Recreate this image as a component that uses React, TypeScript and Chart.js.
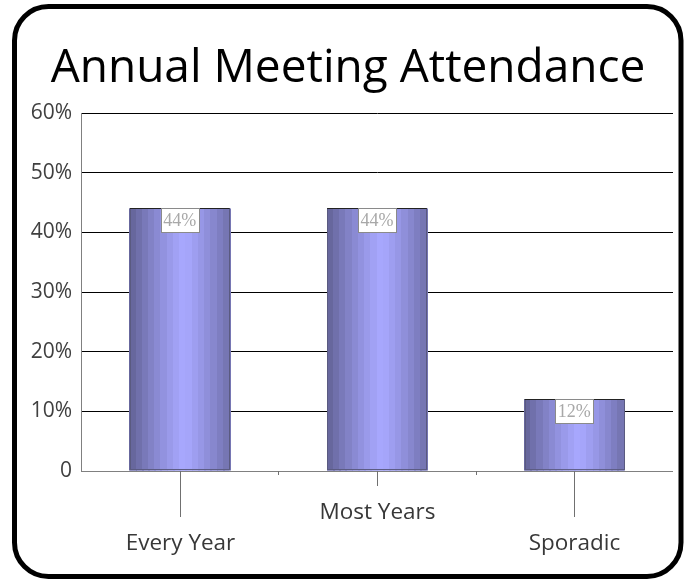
import React, { useEffect, useRef } from "react";
import { Chart, registerables } from "chart.js";

Chart.register(...registerables);

const chartTitle = "Annual Meeting Attendance";
const categories = ["Every Year", "Most Years", "Sporadic"];
const values = [44, 44, 12];
const valueLabels = ["44%", "44%", "12%"];
const labelRows = [1, 0, 1];
const yMin = 0;
const yMax = 60;
const yStep = 10;

const FONT = "'Open Sans', sans-serif";

const lerp = (a: number, b: number, t: number) => Math.round(a + (b - a) * t);
const EDGE = [98, 98, 150];
const CENTER = [168, 168, 255];

const framePlugin = {
  id: "frame",
  beforeDraw(chart: any) {
    const ctx = chart.ctx;
    ctx.save();
    ctx.fillStyle = "#ffffff";
    ctx.fillRect(0, 0, chart.width, chart.height);
    ctx.lineWidth = 5;
    ctx.strokeStyle = "#000000";
    ctx.beginPath();
    (ctx as any).roundRect(14.5, 6.5, 666.5, 570, 34);
    ctx.stroke();
    // title
    ctx.fillStyle = "#000000";
    ctx.font = `46px ${FONT}`;
    ctx.textAlign = "center";
    ctx.textBaseline = "alphabetic";
    ctx.fillText(chartTitle, 348, 82);
    ctx.restore();
  },
};

const barsPlugin = {
  id: "bandedBars",
  afterDatasetsDraw(chart: any) {
    const ctx = chart.ctx;
    const meta = chart.getDatasetMeta(0);
    ctx.save();
    meta.data.forEach((bar: any, i: number) => {
      const { x, y, base, width } = bar.getProps(["x", "y", "base", "width"], true);
      const left = x - width / 2;
      const n = 16;
      const bw = width / n;
      for (let k = 0; k < n; k++) {
        const c = (k + 0.5) / n;
        let t = Math.abs(c - 0.55) / 0.55;
        t = Math.min(1, Math.pow(t, 1.2));
        ctx.fillStyle = `rgb(${lerp(CENTER[0], EDGE[0], t)},${lerp(CENTER[1], EDGE[1], t)},${lerp(CENTER[2], EDGE[2], t)})`;
        ctx.fillRect(Math.floor(left + k * bw), y, Math.ceil(bw) + 1, base - y);
      }
      ctx.strokeStyle = "#5a5a80";
      ctx.lineWidth = 1;
      ctx.strokeRect(Math.round(left) + 0.5, Math.round(y) + 0.5, Math.round(width) - 1, base - y - 1);
      ctx.strokeStyle = "#222222";
      ctx.beginPath();
      ctx.moveTo(left, Math.round(y) + 0.5);
      ctx.lineTo(left + width, Math.round(y) + 0.5);
      ctx.stroke();

      // value label box
      const bx = Math.round(x - 19) + 0.5;
      const by = Math.round(y) + 0.5;
      ctx.fillStyle = "#ffffff";
      ctx.fillRect(bx, by, 38, 24);
      ctx.strokeStyle = "#8a8a8a";
      ctx.strokeRect(bx, by, 38, 24);
      ctx.fillStyle = "#a8a8a8";
      ctx.font = "18px 'Liberation Serif', serif";
      ctx.textAlign = "center";
      ctx.textBaseline = "middle";
      ctx.fillText(valueLabels[i], x, by + 13);
    });
    ctx.restore();
  },
};

const xAxisPlugin = {
  id: "staggeredX",
  afterDraw(chart: any) {
    const ctx = chart.ctx;
    const xs = chart.scales.x;
    const bottom = chart.chartArea.bottom;
    ctx.save();
    ctx.strokeStyle = "#707070";
    ctx.lineWidth = 1;
    ctx.fillStyle = "#383838";
    ctx.font = `22.5px ${FONT}`;
    ctx.textAlign = "center";
    ctx.textBaseline = "middle";
    categories.forEach((cat, i) => {
      const x = Math.round(xs.getPixelForValue(i)) + 0.5;
      const row = labelRows[i];
      ctx.beginPath();
      ctx.moveTo(x, bottom);
      ctx.lineTo(x, row ? bottom + 46 : bottom + 15);
      ctx.stroke();
      ctx.fillText(cat, x, row ? bottom + 73 : bottom + 42);
      if (i < categories.length - 1) {
        const xb = Math.round((xs.getPixelForValue(i) + xs.getPixelForValue(i + 1)) / 2) + 0.5;
        ctx.beginPath();
        ctx.moveTo(xb, bottom);
        ctx.lineTo(xb, bottom + 4);
        ctx.stroke();
      }
    });
    ctx.restore();
  },
};

export default function App() {
  const ref = useRef<HTMLCanvasElement | null>(null);
  useEffect(() => {
    if (!ref.current) return;
    const chart = new Chart(ref.current, {
      type: "bar",
      data: {
        labels: categories,
        datasets: [
          {
            data: values,
            backgroundColor: "rgb(140,140,220)",
            borderWidth: 0,
            barPercentage: 0.505,
            categoryPercentage: 1,
          },
        ],
      },
      options: {
        animation: false,
        responsive: false,
        maintainAspectRatio: false,
        layout: { padding: { top: 113, right: 15, bottom: 109, left: 0 } },
        plugins: {
          legend: { display: false },
          tooltip: { enabled: false },
          title: { display: false },
        },
        scales: {
          x: { display: false, offset: true },
          y: {
            min: yMin,
            max: yMax,
            ticks: {
              stepSize: yStep,
              padding: 9,
              color: "#404040",
              font: { family: FONT, size: 21 },
              callback: (v: any) => (Number(v) === 0 ? "0" : `${v}%`),
            },
            grid: {
              drawTicks: false,
              color: (c: any) => (c.tick && c.tick.value === 0 ? "#808080" : "#000000"),
              lineWidth: 1,
            },
            border: { display: true, color: "#808080" },
            afterFit: (scale: any) => {
              scale.width = 81;
            },
          },
        },
      },
      plugins: [framePlugin, barsPlugin, xAxisPlugin],
    });
    return () => chart.destroy();
  }, []);
  return (
    <div style={{ position: "absolute", left: 0, top: 0, width: 688, height: 580 }}>
      <canvas ref={ref} width={688} height={580} style={{ display: "block" }} />
    </div>
  );
}
